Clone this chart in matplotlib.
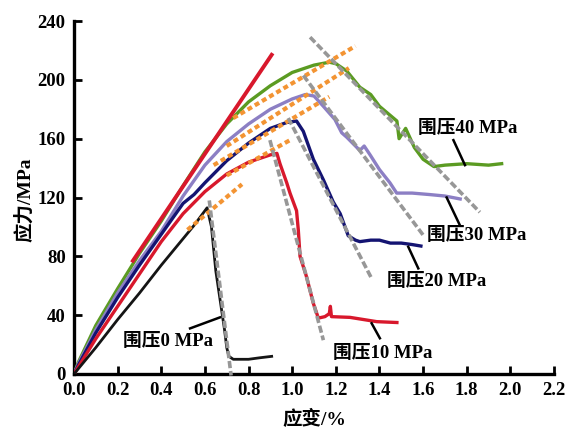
import matplotlib
matplotlib.use("Agg")
import matplotlib.pyplot as plt

plt.rcParams['font.family'] = ['Liberation Serif', 'Noto Sans CJK SC']
plt.rcParams['font.weight'] = 'bold'

# ---- data ----
strain_40 = [0, 0.02, 0.1, 0.2, 0.3, 0.4, 0.5, 0.6, 0.7, 0.8, 0.9, 1.0, 1.1, 1.17, 1.2, 1.25, 1.31,
             1.36, 1.40, 1.44, 1.48, 1.49, 1.52, 1.56, 1.6, 1.65, 1.7, 1.8, 1.9, 1.96]
stress_40 = [0, 8, 33, 58, 82, 104, 128, 151, 170, 185, 196, 205, 210, 212, 211, 206, 195,
             190, 182, 177, 172, 160, 167, 154, 146, 141, 142, 143, 142, 143]

strain_30 = [0, 0.02, 0.1, 0.2, 0.3, 0.4, 0.5, 0.6, 0.7, 0.8, 0.9, 1.0, 1.06, 1.1, 1.143, 1.196,
             1.227, 1.25, 1.31, 1.33, 1.357, 1.40, 1.448, 1.479, 1.55, 1.63, 1.70, 1.77]
stress_30 = [0, 7, 30, 55, 77, 97, 121, 142, 158, 170, 180, 187, 190, 189, 182, 173,
             164, 161, 152, 155, 149, 139, 130, 123, 123, 122, 121, 119]

strain_20 = [0, 0.02, 0.1, 0.2, 0.3, 0.4, 0.5, 0.55, 0.6, 0.7, 0.8, 0.9, 0.975, 1.02, 1.051, 1.097,
             1.143, 1.188, 1.22, 1.257, 1.29, 1.31, 1.36, 1.40, 1.45, 1.5, 1.55, 1.59]
stress_20 = [0, 6, 28, 52, 74, 95, 116, 122, 130, 145, 157, 167, 171, 172, 165, 146,
             132, 117, 109, 94, 91, 90, 91, 91, 89, 89, 88, 87]

strain_10 = [0, 0.1, 0.2, 0.3, 0.4, 0.5, 0.6, 0.7, 0.8, 0.9, 0.93, 0.944, 0.975, 0.99, 1.02,
             1.028, 1.036, 1.066, 1.097, 1.12, 1.15, 1.17, 1.175, 1.18, 1.265, 1.387, 1.48]
stress_10 = [0, 24, 46, 68, 90, 109, 124, 136, 144, 149, 150, 143, 130, 123, 111,
             98, 80, 66, 48, 38, 39, 41, 46, 39, 38.5, 35.6, 35]

strain_0 = [0, 0.1, 0.2, 0.3, 0.4, 0.5, 0.55, 0.61, 0.63, 0.65, 0.67, 0.69, 0.70, 0.71, 0.73,
            0.8, 0.85, 0.906]
stress_0 = [0, 18, 37, 55, 74, 92, 101, 113, 100, 70, 50, 30, 18, 12, 10, 10, 11, 12]

# straight red line
red_line_strain = [0.27, 0.906]
red_line_stress = [77, 217]

# orange dotted extension lines (start, end)
orange_strain = [[0.52, 0.77], [0.70, 0.99], [0.64, 1.17], [0.70, 1.26], [0.73, 1.29]]
orange_stress = [[98, 129], [135, 159], [142, 188.5], [155, 208], [174, 223]]

# gray dashed post-peak lines (start, end)
gray_strain = [[0.62, 0.72], [0.898, 1.143], [0.982, 1.364], [1.051, 1.60], [1.082, 1.86]]
gray_stress = [[118, -1], [159, 23], [174, 65], [203, 94.5], [229, 110]]

labels = ['围压0 MPa', '围压10 MPa', '围压20 MPa', '围压30 MPa', '围压40 MPa']
label_pos = [(0.226, 22), (1.186, 14), (1.433, 62.7), (1.617, 94.5), (1.577, 167)]
leader_strain = [[0.532, 0.669], [1.364, 1.402], [1.532, 1.578], [1.708, 1.769], [1.739, 1.792]]
leader_stress = [[31, 38.5], [34.5, 24.3], [86.5, 71.8], [120, 101], [159, 142]]

xticks = [0.0, 0.2, 0.4, 0.6, 0.8, 1.0, 1.2, 1.4, 1.6, 1.8, 2.0, 2.2]
yticks = [0, 40, 80, 120, 160, 200, 240]

# ---- plot ----
fig = plt.figure(figsize=(5.69, 4.28), dpi=100)
ax = fig.add_axes([74/569, 1-374/428, 480/569, 353/428])

c_green = '#5b9b22'
c_lav = '#8c7fc4'
c_navy = '#141472'
c_red = '#d8182c'
c_black = '#151515'
c_orange = '#f39433'
c_gray = '#979797'

lw = 2.4
ax.plot(strain_40, stress_40, color=c_green, lw=lw, zorder=3)
ax.plot(strain_30, stress_30, color=c_lav, lw=lw, zorder=3)
ax.plot(strain_20, stress_20, color=c_navy, lw=lw, zorder=3)
ax.plot(strain_10, stress_10, color=c_red, lw=lw, zorder=3)
ax.plot(strain_0, stress_0, color=c_black, lw=2.0, zorder=3)
ax.plot(red_line_strain, red_line_stress, color=c_red, lw=2.8, zorder=4)

for xs, ys in zip(orange_strain, orange_stress):
    ax.plot(xs, ys, color=c_orange, lw=3.0, ls=(0, (1.2, 0.8)), zorder=5)
for xs, ys in zip(gray_strain, gray_stress):
    ax.plot(xs, ys, color=c_gray, lw=2.6, ls=(0, (2.0, 0.8)), zorder=6, clip_on=False)

for lab, (x, y), lx, ly in zip(labels, label_pos, leader_strain, leader_stress):
    ax.text(x, y, lab, fontsize=13.5, fontweight='bold', ha='left', va='center', zorder=7)
    ax.plot(lx, ly, color='black', lw=1.8, zorder=7)

ax.set_xlim(0, 2.2)
ax.set_ylim(0, 240)
ax.set_xticks(xticks)
ax.set_xticklabels([f'{v:.1f}' for v in xticks])
ax.set_yticks(yticks)
ax.set_yticklabels([str(v) for v in yticks])
for s in ['top', 'right']:
    ax.spines[s].set_visible(False)
for s in ['left', 'bottom']:
    ax.spines[s].set_linewidth(2.4)
ax.tick_params(direction='in', length=6, width=2, labelsize=13.5, pad=6)
for t in ax.get_xticklabels() + ax.get_yticklabels():
    t.set_fontweight('bold')

ax.set_xlabel('应变/%', fontsize=14, fontweight='bold')
ax.set_ylabel('应力/MPa', fontsize=14, fontweight='bold')
ax.xaxis.set_label_coords((314-74)/480, (374-410)/353)
ax.yaxis.set_label_coords((34-74)/480, (374-200)/353)

fig.savefig('out.png', dpi=100)
